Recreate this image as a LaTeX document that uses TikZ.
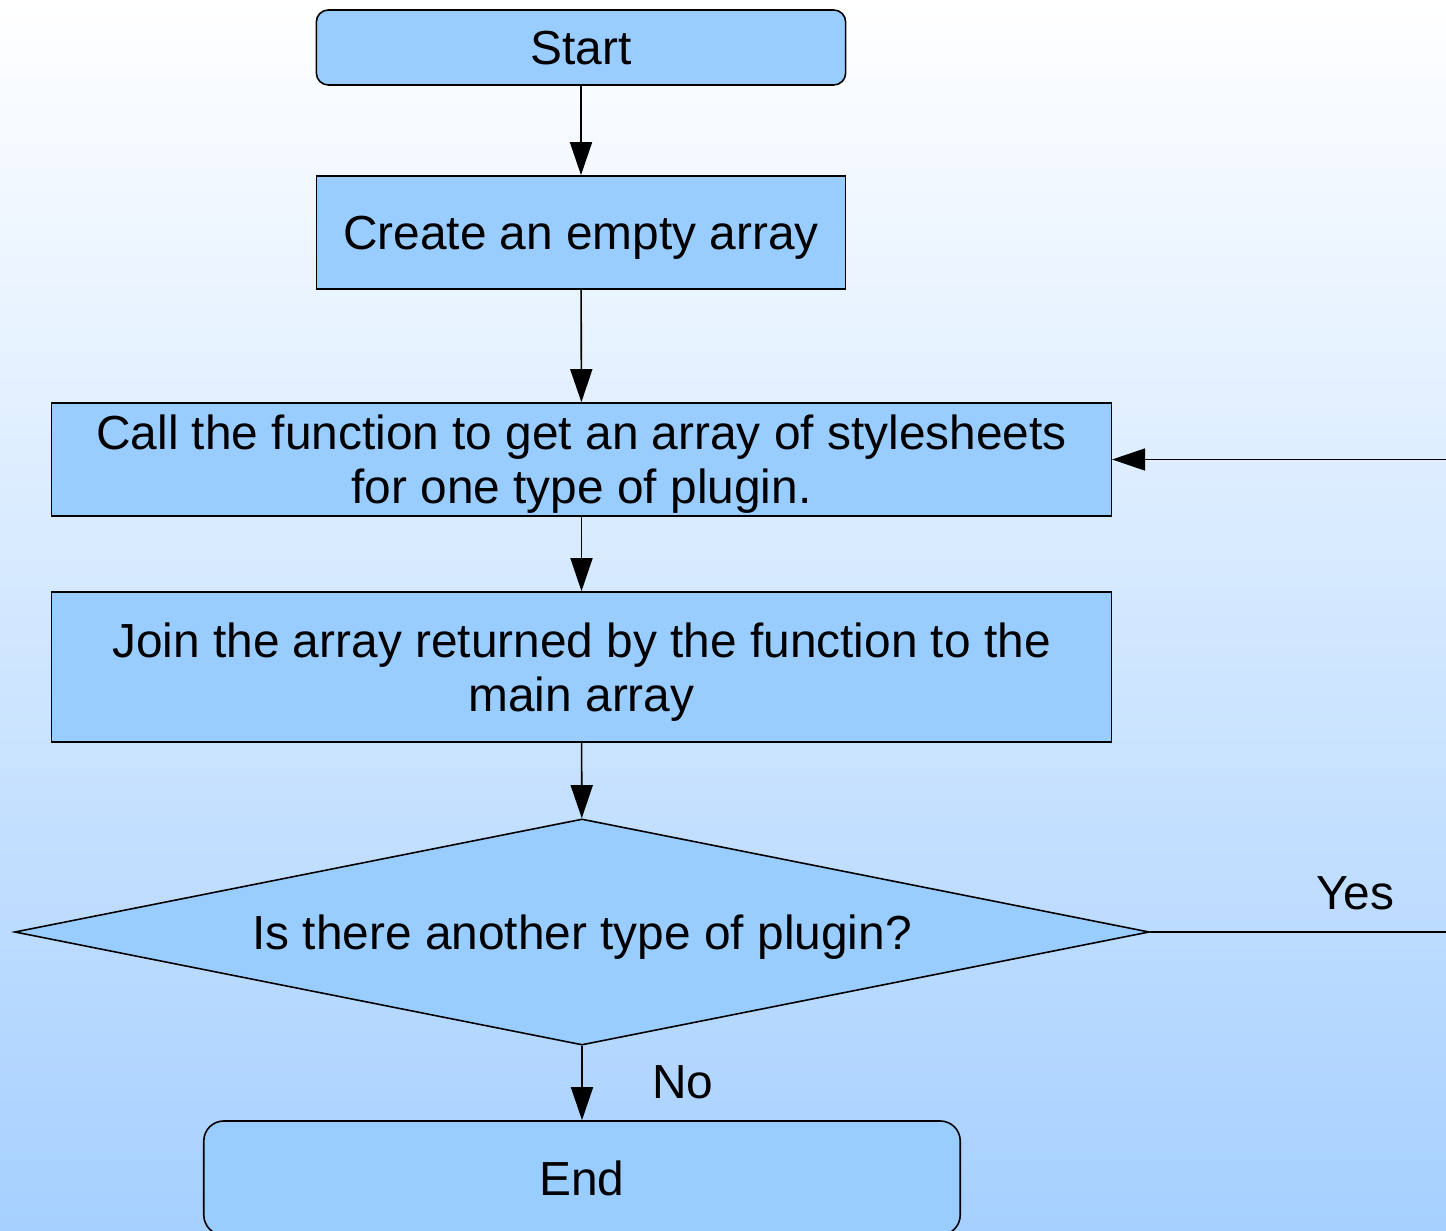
\documentclass[tikz,border=0pt]{standalone}
\usepackage{fontspec}
\setmainfont{Liberation Sans}
\usetikzlibrary{shapes.geometric,arrows.meta}
\definecolor{boxblue}{RGB}{153,204,255}
\definecolor{bgbottom}{RGB}{166,208,255}
\tikzset{
  box/.style={draw, fill=boxblue, line width=0.45pt, align=center, inner sep=0pt,
    text depth=0pt, font=\fontsize{13.6}{15.4}\selectfont},
  term/.style={box, rounded corners=0.12cm},
  decision/.style={box, diamond, aspect=5},
  label/.style={font=\fontsize{13.6}{15.4}\selectfont},
  flow/.style={line width=0.45pt, -{Triangle[length=0.33cm, width=0.22cm]}}
}
\begin{document}
\begin{tikzpicture}[x=0.01cm, y=-0.01cm]
  \shade[top color=white, bottom color=bgbottom] (0,0) rectangle (1446,1231);
  \clip (0,0) rectangle (1446,1231);
  \node[term, minimum width=5.29cm, minimum height=0.75cm] (start) at (581,47.5) {Start};
  \node[box, minimum width=5.29cm, minimum height=1.13cm] (create) at (581,232.5) {Create an empty array};
  \node[box, minimum width=10.59cm, minimum height=1.13cm] (call) at (581.5,459.5)
    {Call the function to get an array of stylesheets\\for one type of plugin.};
  \node[box, minimum width=10.59cm, minimum height=1.5cm] (join) at (581.5,667)
    {Join the array returned by the function to the\\main array};
  \node[decision, minimum width=11.34cm, minimum height=2.26cm] (check) at (582,932)
    {Is there another type of plugin?};
  \node[term, rounded corners=0.2cm, minimum width=7.56cm, minimum height=1.14cm] (end) at (582,1178) {End};
  \coordinate (loop) at (1490,932);
  \node[label] (yes) at (1355,893) {Yes};
  \node[label] (no) at (683,1082) {No};
  \draw[flow] (start) -- (create);
  \draw[flow] (create) -- (call);
  \draw[flow] (call) -- (join);
  \draw[flow] (join) -- (check);
  \draw[flow] (check) -- (end);
  \draw[flow] (check.east) -- (loop) |- (call.east);
\end{tikzpicture}
\end{document}
